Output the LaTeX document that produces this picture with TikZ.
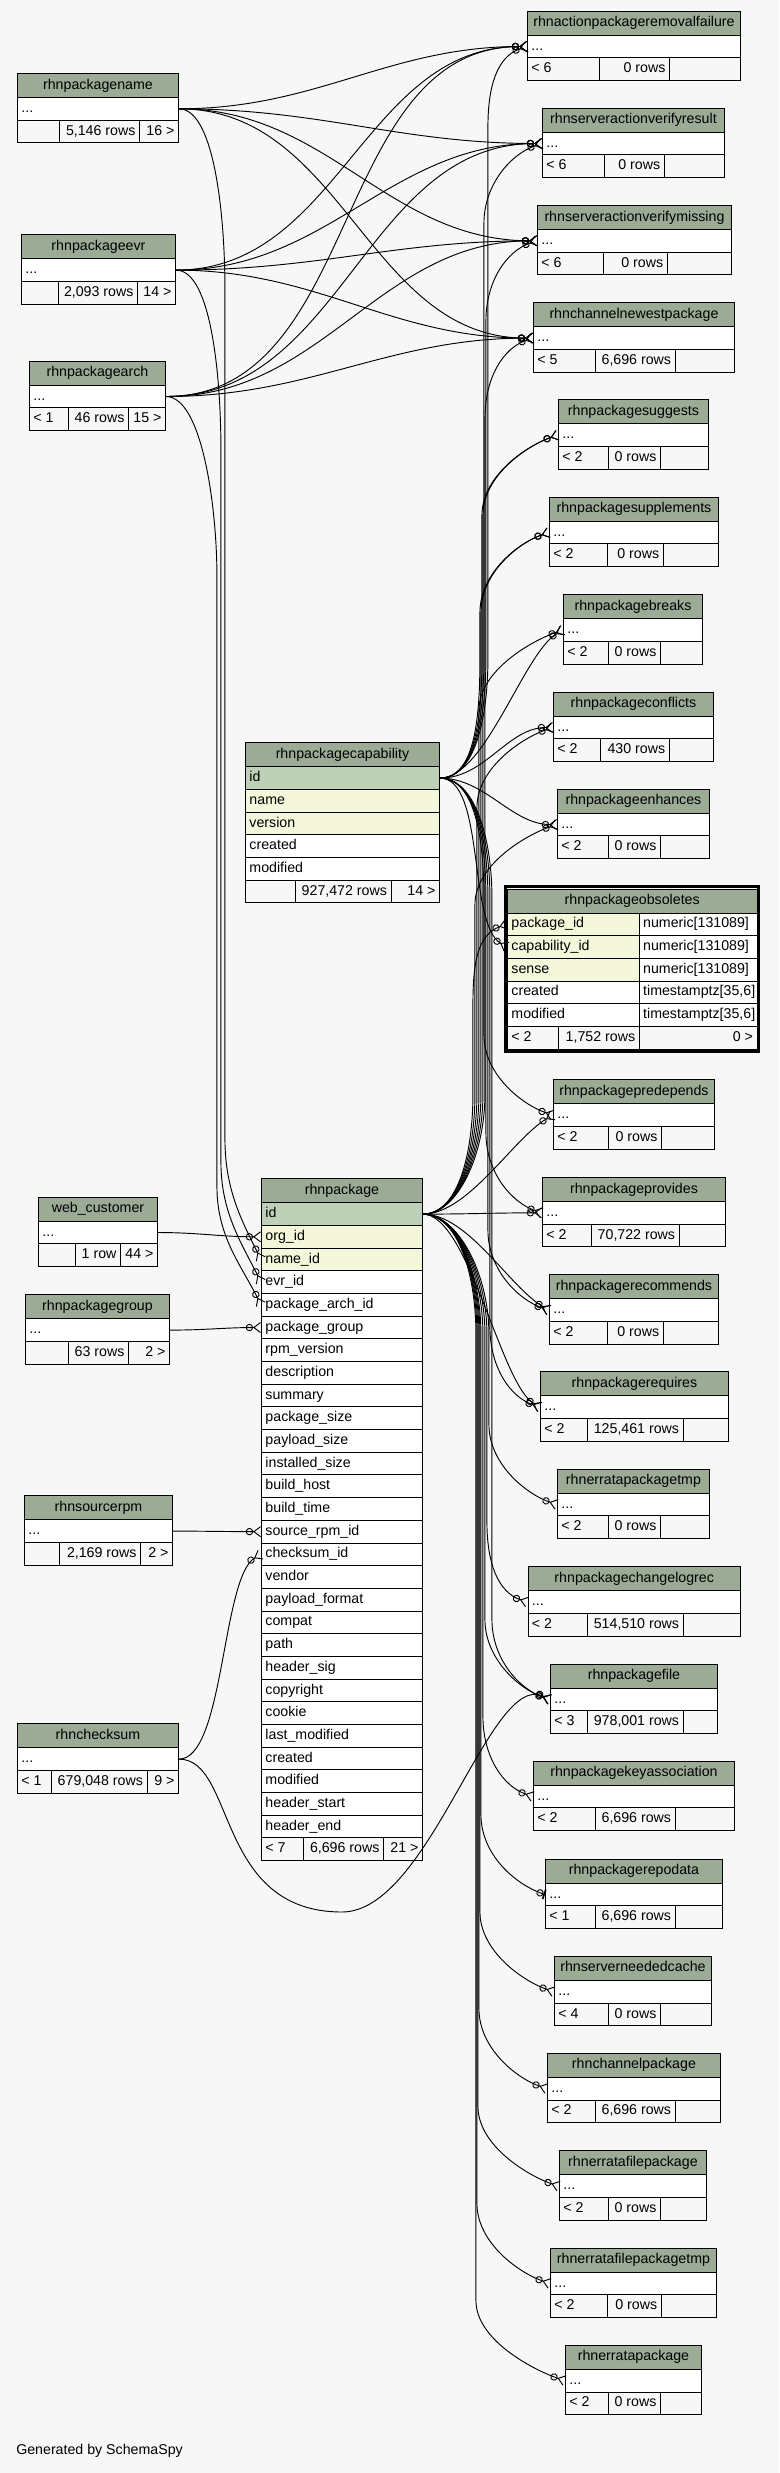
\documentclass[tikz,border=0pt]{standalone}
\usepackage{fontspec}
\setmainfont{Liberation Sans}
\usetikzlibrary{arrows.meta,calc}
\definecolor{bgfill}{HTML}{F7F7F7}
\definecolor{hdrgreen}{HTML}{9BAB96}
\definecolor{pkgreen}{HTML}{BED1B8}
\definecolor{ixyellow}{HTML}{F4F7DA}
\definecolor{footgray}{HTML}{F7F7F7}
\newcommand{\tblfont}{\fontsize{10.65pt}{12pt}\selectfont}
\tikzset{
    cell/.style={draw=black, line width=0.7pt, anchor=north west, inner xsep=3pt, inner ysep=0pt,
        minimum height=17.01pt, text height=7.7pt, text depth=2.3pt, font=\tblfont},
    hdr/.style={cell, fill=hdrgreen, minimum height=18pt},
    pkrow/.style={cell, fill=pkgreen},
    ixrow/.style={cell, fill=ixyellow},
    plainrow/.style={cell, fill=white},
    footcell/.style={cell, fill=footgray},
    fk/.style={draw=black, line width=0.7pt, out=0, in=180,
        -{Circle[open,length=5.5pt] Straight Barb[reversed,length=5pt,width=7.5pt]}},
    fklong/.style={fk, distance=34pt},
    fkup/.style={fk, distance=34pt, in=210},
    fkdown/.style={fk, distance=34pt, in=150},
    fkone/.style={draw=black, line width=0.7pt,
        -{Circle[open,length=5.5pt] Bar[width=7.5pt,line width=1.2pt]}}
}
% one cell: name, left, top, width, style, alignment, text
\newcommand{\fieldrow}[7]{%
    \pgfmathsetlengthmacro\tbltw{(#4)*0.75pt-6pt}%
    \node[#5] (#1) at ({#2},{#3}) {\makebox[\tbltw][#6]{#7}};%
}
% table with one elided row: name, left, top, right, split1, split2, footer texts
\newcommand{\smalltable}[9]{%
    \fieldrow{#1-h}{#2}{#3}{#4-#2}{hdr}{c}{\detokenize{#1}}%
    \fieldrow{#1}{#2}{#3+24}{#4-#2}{plainrow}{l}{...}%
    \fieldrow{#1-f1}{#2}{#3+46.68}{#5-#2}{footcell}{l}{#7}%
    \fieldrow{#1-f2}{#5}{#3+46.68}{#6-#5}{footcell}{r}{#8}%
    \fieldrow{#1-f3}{#6}{#3+46.68}{#4-#6}{footcell}{r}{#9}%
}
\newcommand{\pkgrow}[4]{\fieldrow{rhnpackage-#1}{261}{1202.3+(#2-1)*22.68}{161}{#3}{l}{#4}}
% long links that run in the channel right of the key: style, parent, child, channel offset
\newcommand{\downlink}[4][fk]{%
    \draw[#1] (#2.east) .. controls +(35,0) and +(0,-60) .. ++(#4,120)
        -- ($(#2.east |- #3.west)+(#4,-80)$) .. controls +(0,40) and +(-30,-10) .. (#3.west);}
\newcommand{\uplink}[4][fk]{%
    \draw[#1] (#2.east) .. controls +(35,0) and +(0,60) .. ++(#4,-120)
        -- ($(#2.east |- #3.west)+(#4,80)$) .. controls +(0,-40) and +(-30,10) .. (#3.west);}

\begin{document}
\begin{tikzpicture}[x=0.75pt,y=-0.75pt]
    \fill[bgfill] (0,0) rectangle (779,2473);

    % parents on the left
    \smalltable{rhnpackagename}{17}{73}{178}{59}{139}{}{5,146 rows}{16 >}
    \smalltable{rhnpackageevr}{21}{234.3}{175}{57.6}{137}{}{2,093 rows}{14 >}
    \smalltable{rhnpackagearch}{29}{360.7}{165}{68}{128}{< 1}{46 rows}{15 >}
    \smalltable{web_customer}{38}{1196.7}{157}{74.5}{120}{}{1 row}{44 >}
    \smalltable{rhnpackagegroup}{25}{1294.3}{169}{68}{128}{}{63 rows}{2 >}
    \smalltable{rhnsourcerpm}{24}{1495.3}{172}{59}{140}{}{2,169 rows}{2 >}
    \smalltable{rhnchecksum}{17}{1723.3}{178}{50.7}{146.5}{< 1}{679,048 rows}{9 >}

    % rhnpackagecapability
    \fieldrow{rhnpackagecapability-h}{245}{742.3}{194}{hdr}{c}{rhnpackagecapability}
    \fieldrow{rhnpackagecapability-id}{245}{766.3}{194}{pkrow}{l}{id}
    \fieldrow{rhnpackagecapability-name}{245}{788.98}{194}{ixrow}{l}{name}
    \fieldrow{rhnpackagecapability-version}{245}{811.66}{194}{ixrow}{l}{version}
    \fieldrow{rhnpackagecapability-created}{245}{834.34}{194}{plainrow}{l}{created}
    \fieldrow{rhnpackagecapability-modified}{245}{857.02}{194}{plainrow}{l}{modified}
    \fieldrow{rhnpackagecapability-f1}{245}{879.7}{49.6}{footcell}{l}{}
    \fieldrow{rhnpackagecapability-f2}{294.6}{879.7}{95.9}{footcell}{r}{927,472 rows}
    \fieldrow{rhnpackagecapability-f3}{390.5}{879.7}{48.5}{footcell}{r}{14 >}

    % rhnpackage
    \fieldrow{rhnpackage-h}{261}{1178.3}{161}{hdr}{c}{rhnpackage}
    \pkgrow{id}{1}{pkrow}{id}
    \pkgrow{org_id}{2}{ixrow}{org\_id}
    \pkgrow{name_id}{3}{ixrow}{name\_id}
    \pkgrow{evr_id}{4}{plainrow}{evr\_id}
    \pkgrow{package_arch_id}{5}{plainrow}{package\_arch\_id}
    \pkgrow{package_group}{6}{plainrow}{package\_group}
    \pkgrow{rpm_version}{7}{plainrow}{rpm\_version}
    \pkgrow{description}{8}{plainrow}{description}
    \pkgrow{summary}{9}{plainrow}{summary}
    \pkgrow{package_size}{10}{plainrow}{package\_size}
    \pkgrow{payload_size}{11}{plainrow}{payload\_size}
    \pkgrow{installed_size}{12}{plainrow}{installed\_size}
    \pkgrow{build_host}{13}{plainrow}{build\_host}
    \pkgrow{build_time}{14}{plainrow}{build\_time}
    \pkgrow{source_rpm_id}{15}{plainrow}{source\_rpm\_id}
    \pkgrow{checksum_id}{16}{plainrow}{checksum\_id}
    \pkgrow{vendor}{17}{plainrow}{vendor}
    \pkgrow{payload_format}{18}{plainrow}{payload\_format}
    \pkgrow{compat}{19}{plainrow}{compat}
    \pkgrow{path}{20}{plainrow}{path}
    \pkgrow{header_sig}{21}{plainrow}{header\_sig}
    \pkgrow{copyright}{22}{plainrow}{copyright}
    \pkgrow{cookie}{23}{plainrow}{cookie}
    \pkgrow{last_modified}{24}{plainrow}{last\_modified}
    \pkgrow{created}{25}{plainrow}{created}
    \pkgrow{modified}{26}{plainrow}{modified}
    \pkgrow{header_start}{27}{plainrow}{header\_start}
    \pkgrow{header_end}{28}{plainrow}{header\_end}
    \fieldrow{rhnpackage-f1}{261}{1837.3}{41.5}{footcell}{l}{< 7}
    \fieldrow{rhnpackage-f2}{302.5}{1837.3}{80.5}{footcell}{r}{6,696 rows}
    \fieldrow{rhnpackage-f3}{383}{1837.3}{39}{footcell}{r}{21 >}

    % children on the right
    \smalltable{rhnactionpackageremovalfailure}{527}{10.7}{740}{599}{669}{< 6}{0 rows}{}
    \smalltable{rhnserveractionverifyresult}{542}{107.7}{724}{604}{663.7}{< 6}{0 rows}{}
    \smalltable{rhnserveractionverifymissing}{537}{205}{731}{602.6}{666.7}{< 6}{0 rows}{}
    \smalltable{rhnchannelnewestpackage}{533}{302.3}{734}{594.6}{674.6}{< 5}{6,696 rows}{}
    \smalltable{rhnpackagesuggests}{558}{399.3}{708}{608}{660}{< 2}{0 rows}{}
    \smalltable{rhnpackagesupplements}{549}{496.7}{718}{606.6}{662.7}{< 2}{0 rows}{}
    \smalltable{rhnpackagebreaks}{563}{594.3}{702}{608}{660}{< 2}{0 rows}{}
    \smalltable{rhnpackageconflicts}{553}{691.7}{713}{600}{668.7}{< 2}{430 rows}{}
    \smalltable{rhnpackageenhances}{557}{788.7}{709}{608}{660}{< 2}{0 rows}{}
    \smalltable{rhnpackagepredepends}{553}{1079.3}{714}{608}{661}{< 2}{0 rows}{}
    \smalltable{rhnpackageprovides}{542}{1177}{725}{590.7}{678.6}{< 2}{70,722 rows}{}
    \smalltable{rhnpackagerecommends}{549}{1274.3}{718}{606.6}{662.7}{< 2}{0 rows}{}
    \smalltable{rhnpackagerequires}{540}{1371.3}{728}{586.7}{682.6}{< 2}{125,461 rows}{}
    \smalltable{rhnerratapackagetmp}{557}{1468.7}{709}{608}{660}{< 2}{0 rows}{}
    \smalltable{rhnpackagechangelogrec}{527.5}{1566.3}{740}{586.7}{682.6}{< 2}{514,510 rows}{}
    \smalltable{rhnpackagefile}{550}{1663.7}{717}{586.7}{682.6}{< 3}{978,001 rows}{}
    \smalltable{rhnpackagekeyassociation}{533}{1760.7}{734}{594.6}{674.6}{< 2}{6,696 rows}{}
    \smalltable{rhnpackagerepodata}{545}{1858.7}{722}{594.6}{674.6}{< 1}{6,696 rows}{}
    \smalltable{rhnserverneededcache}{554}{1955.9}{711}{608}{660}{< 4}{0 rows}{}
    \smalltable{rhnchannelpackage}{547}{2052.8}{720}{594.6}{674.6}{< 2}{6,696 rows}{}
    \smalltable{rhnerratafilepackage}{559}{2150.4}{706}{608}{660}{< 2}{0 rows}{}
    \smalltable{rhnerratafilepackagetmp}{550}{2247.6}{716}{606.6}{660.7}{< 2}{0 rows}{}
    \smalltable{rhnerratapackage}{565}{2344.8}{701}{608}{660}{< 2}{0 rows}{}

    % rhnpackageobsoletes, the table in focus
    \fieldrow{rhnpackageobsoletes-h}{507}{888.5}{249.5}{hdr}{c}{rhnpackageobsoletes}
    \fieldrow{rhnpackageobsoletes-package_id}{507}{912.5}{131.7}{ixrow}{l}{package\_id}
    \fieldrow{rhnpackageobsoletes-package_id-t}{638.7}{912.5}{117.8}{plainrow}{l}{numeric[131089]}
    \fieldrow{rhnpackageobsoletes-capability_id}{507}{935.18}{131.7}{ixrow}{l}{capability\_id}
    \fieldrow{rhnpackageobsoletes-capability_id-t}{638.7}{935.18}{117.8}{plainrow}{l}{numeric[131089]}
    \fieldrow{rhnpackageobsoletes-sense}{507}{957.86}{131.7}{ixrow}{l}{sense}
    \fieldrow{rhnpackageobsoletes-sense-t}{638.7}{957.86}{117.8}{plainrow}{l}{numeric[131089]}
    \fieldrow{rhnpackageobsoletes-created}{507}{980.54}{131.7}{plainrow}{l}{created}
    \fieldrow{rhnpackageobsoletes-created-t}{638.7}{980.54}{117.8}{plainrow}{l}{timestamptz[35,6]}
    \fieldrow{rhnpackageobsoletes-modified}{507}{1003.22}{131.7}{plainrow}{l}{modified}
    \fieldrow{rhnpackageobsoletes-modified-t}{638.7}{1003.22}{117.8}{plainrow}{l}{timestamptz[35,6]}
    \fieldrow{rhnpackageobsoletes-f1}{507}{1025.9}{51.3}{footcell}{l}{< 2}
    \fieldrow{rhnpackageobsoletes-f2}{558.3}{1025.9}{80.4}{footcell}{r}{1,752 rows}
    \fieldrow{rhnpackageobsoletes-f3}{638.7}{1025.9}{117.8}{footcell}{r}{0 >}
    \draw[line width=2pt] (505.3,886.3) rectangle (758.2,1051.2);

    \node[anchor=west, inner sep=0pt, font=\tblfont] (credit) at (16,2451) {Generated by SchemaSpy};

    % name, evr and arch
    \draw[fk] (rhnpackagename.east) to (rhnactionpackageremovalfailure.west);
    \draw[fk] (rhnpackagename.east) to (rhnserveractionverifyresult.west);
    \draw[fk] (rhnpackagename.east) to (rhnserveractionverifymissing.west);
    \draw[fk] (rhnpackagename.east) to (rhnchannelnewestpackage.west);
    \draw[fk] (rhnpackageevr.east) to (rhnactionpackageremovalfailure.west);
    \draw[fk] (rhnpackageevr.east) to (rhnserveractionverifyresult.west);
    \draw[fk] (rhnpackageevr.east) to (rhnserveractionverifymissing.west);
    \draw[fk] (rhnpackageevr.east) to (rhnchannelnewestpackage.west);
    \draw[fk] (rhnpackagearch.east) to (rhnactionpackageremovalfailure.west);
    \draw[fk] (rhnpackagearch.east) to (rhnserveractionverifyresult.west);
    \draw[fk] (rhnpackagearch.east) to (rhnserveractionverifymissing.west);
    \draw[fk] (rhnpackagearch.east) to (rhnchannelnewestpackage.west);
    \draw[fk] (rhnpackagename.east) .. controls +(36,0) and +(0,-70) .. ++(46,180) -- ++(0,850)
        .. controls +(0,50) and +(-20,-40) .. (rhnpackage-name_id.west);
    \draw[fk] (rhnpackageevr.east) .. controls +(36,0) and +(0,-70) .. ++(45,180) -- ++(0,712)
        .. controls +(0,50) and +(-20,-40) .. (rhnpackage-evr_id.west);
    \draw[fk] (rhnpackagearch.east) .. controls +(36,0) and +(0,-70) .. ++(51,180) -- ++(0,610)
        .. controls +(0,50) and +(-20,-40) .. (rhnpackage-package_arch_id.west);

    % other parents of rhnpackage
    \draw[fk] (web_customer.east) to (rhnpackage-org_id.west);
    \draw[fk] (rhnpackagegroup.east) to (rhnpackage-package_group.west);
    \draw[fk] (rhnsourcerpm.east) to (rhnpackage-source_rpm_id.west);
    \draw[fkup] (rhnchecksum.east) to (rhnpackage-checksum_id.west);
    \coordinate (cksumdip) at (342,1912);
    \draw[fk] (rhnchecksum.east) .. controls +(57,0) and +(-127,0) .. (cksumdip)
        .. controls +(88,0) and +(-60,-30) .. (rhnpackagefile.west);

    % capability
    \uplink{rhnpackagecapability-id}{rhnactionpackageremovalfailure}{48}
    \uplink{rhnpackagecapability-id}{rhnserveractionverifyresult}{44}
    \uplink{rhnpackagecapability-id}{rhnserveractionverifymissing}{46}
    \uplink{rhnpackagecapability-id}{rhnpackagesuggests}{42}
    \uplink{rhnpackagecapability-id}{rhnpackagesupplements}{40}
    \draw[fkup] (rhnpackagecapability-id.east) to (rhnpackagebreaks.west);
    \draw[fklong] (rhnpackagecapability-id.east) to (rhnpackageconflicts.west);
    \draw[fklong] (rhnpackagecapability-id.east) to (rhnpackageenhances.west);
    \draw[fkdown] (rhnpackagecapability-id.east) to (rhnpackageobsoletes-capability_id.west);
    \downlink{rhnpackagecapability-id}{rhnpackagepredepends}{44}
    \downlink{rhnpackagecapability-id}{rhnpackageprovides}{46}
    \downlink{rhnpackagecapability-id}{rhnpackagerecommends}{48}
    \downlink{rhnpackagecapability-id}{rhnpackagerequires}{50}
    \downlink{rhnpackagecapability-id}{rhnpackagefile}{52}

    % package
    \uplink{rhnpackage-id}{rhnchannelnewestpackage}{62}
    \uplink{rhnpackage-id}{rhnpackagesuggests}{60}
    \uplink{rhnpackage-id}{rhnpackagesupplements}{58}
    \uplink{rhnpackage-id}{rhnpackagebreaks}{56}
    \uplink{rhnpackage-id}{rhnpackageconflicts}{54}
    \uplink{rhnpackage-id}{rhnpackageenhances}{52}
    \uplink{rhnpackage-id}{rhnpackageobsoletes-package_id}{50}
    \draw[fkup] (rhnpackage-id.east) to (rhnpackagepredepends.west);
    \draw[fklong] (rhnpackage-id.east) to (rhnpackageprovides.west);
    \draw[fkdown] (rhnpackage-id.east) to (rhnpackagerecommends.west);
    \draw[fkdown] (rhnpackage-id.east) to (rhnpackagerequires.west);
    \downlink{rhnpackage-id}{rhnerratapackagetmp}{66}
    \downlink{rhnpackage-id}{rhnpackagechangelogrec}{64}
    \downlink{rhnpackage-id}{rhnpackagefile}{62}
    \downlink{rhnpackage-id}{rhnpackagekeyassociation}{60}
    \downlink[fkone]{rhnpackage-id}{rhnpackagerepodata}{58}
    \downlink{rhnpackage-id}{rhnserverneededcache}{57}
    \downlink{rhnpackage-id}{rhnchannelpackage}{56}
    \downlink{rhnpackage-id}{rhnerratafilepackage}{55}
    \downlink{rhnpackage-id}{rhnerratafilepackagetmp}{54}
    \downlink{rhnpackage-id}{rhnerratapackage}{53}
\end{tikzpicture}
\end{document}
